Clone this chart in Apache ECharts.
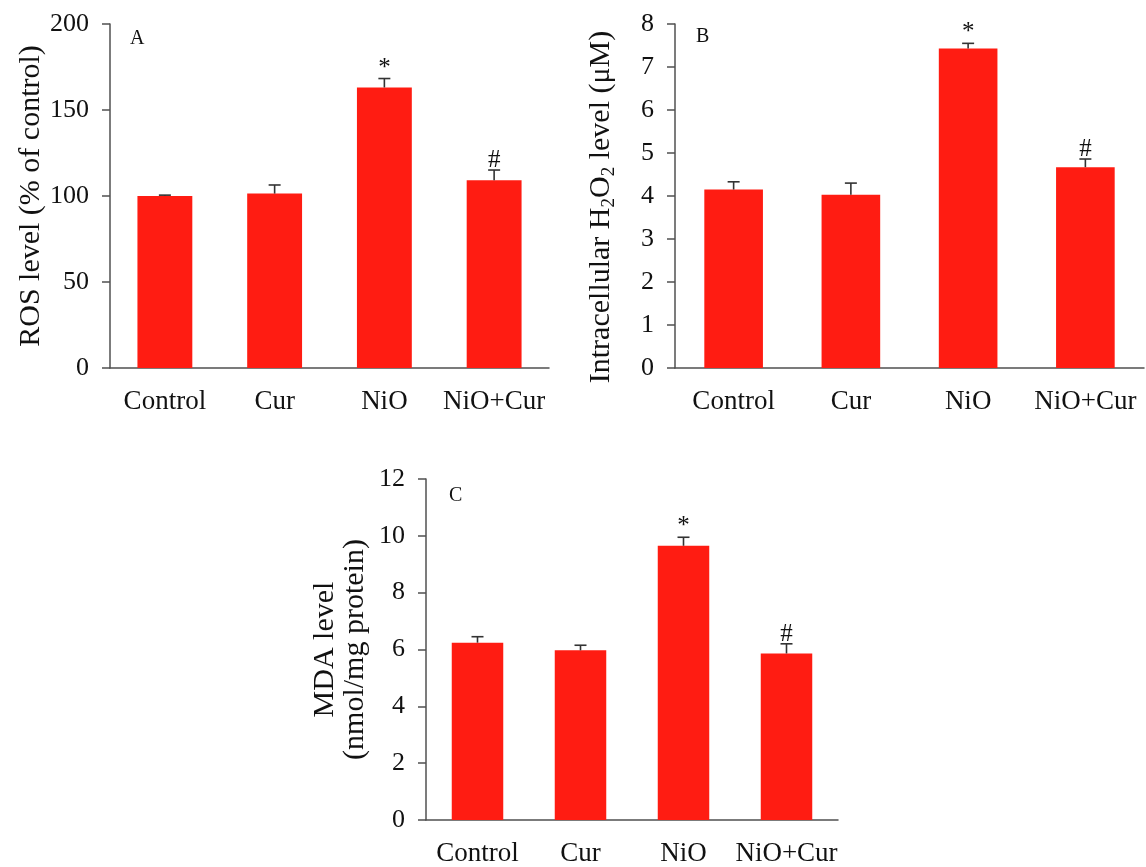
<!DOCTYPE html>
<html lang="en">
<head>
	<meta charset="UTF-8">
	<title>ROS, H2O2 and MDA levels</title>
	<style type="text/css">
		html, body { margin: 0; padding: 0; background: #fff; }
		#chart { width: 1146px; height: 867px; }
	</style>
</head>
<body>
	<div id="chart"></div>
	<script type="text/javascript" src="https://cdn.jsdelivr.net/npm/echarts@6/dist/echarts.min.js"></script>
	<script type="text/javascript">
		// groups, same for all three panels
		var groups = ['Control', 'Cur', 'NiO', 'NiO+Cur'];

		// panel A: ROS level (% of control)
		var rosMean = [100, 101.4, 163.1, 109.1];
		var rosErr = [0.5, 5.0, 5.2, 6.0];
		var rosTicks = [0, 50, 100, 150, 200];

		// panel B: intracellular H2O2 (uM)
		var h2o2Mean = [4.15, 4.03, 7.43, 4.67];
		var h2o2Err = [0.18, 0.27, 0.12, 0.19];
		var h2o2Ticks = [0, 1, 2, 3, 4, 5, 6, 7, 8];

		// panel C: MDA (nmol/mg protein)
		var mdaMean = [6.24, 5.97, 9.65, 5.86];
		var mdaErr = [0.21, 0.18, 0.30, 0.34];
		var mdaTicks = [0, 2, 4, 6, 8, 10, 12];

		// significance marks above the bars
		var marks = ['', '', '*', '#'];

		var font = '"Liberation Serif", "Times New Roman", serif';
		var red = '#ff1c12';
		var axisColor = '#505050';

		var myChart = echarts.init(document.getElementById('chart'));

		function xAx(i) {
			return {
				type: 'category', gridIndex: i, data: groups,
				axisLine: { lineStyle: { color: axisColor, width: 1.5 } },
				axisTick: { alignWithLabel: true, length: 6, lineStyle: { color: axisColor, width: 1.5 } },
				axisLabel: { interval: 0, color: '#111', fontFamily: font, fontSize: 27, margin: 20 }
			};
		}

		function yAx(i, ticks, name, gap, extra) {
			var ax = {
				type: 'value', gridIndex: i,
				min: ticks[0], max: ticks[ticks.length - 1], interval: ticks[1] - ticks[0],
				name: name, nameLocation: 'middle', nameGap: gap, nameRotate: 90,
				nameTextStyle: { color: '#111', fontFamily: font, fontSize: 30 },
				splitLine: { show: false },
				axisLine: { show: true, lineStyle: { color: axisColor, width: 1.5 } },
				axisTick: { show: true, length: 8, lineStyle: { color: axisColor, width: 1.5 } },
				axisLabel: { color: '#111', fontFamily: font, fontSize: 26, margin: 21 }
			};
			if (extra) ax.nameTextStyle = Object.assign(ax.nameTextStyle, extra);
			return ax;
		}

		function bars(i, vals) {
			return {
				type: 'bar', xAxisIndex: i, yAxisIndex: i, data: vals,
				barWidth: '50%', itemStyle: { color: red }, z: 2
			};
		}

		// upper error bar + cap + mark, drawn on the same axes
		function errs(i, vals, e) {
			return {
				type: 'custom', xAxisIndex: i, yAxisIndex: i, z: 3,
				data: vals.map(function (v, k) { return [k, v, v + e[k]]; }),
				renderItem: function (params, api) {
					var base = api.coord([api.value(0), api.value(1)]);
					var top = api.coord([api.value(0), api.value(2)]);
					var st = { stroke: '#333', lineWidth: 1.6 };
					var kids = [
						{ type: 'line', shape: { x1: top[0], y1: base[1], x2: top[0], y2: top[1] }, style: st },
						{ type: 'line', shape: { x1: top[0] - 6, y1: top[1], x2: top[0] + 6, y2: top[1] }, style: st }
					];
					var m = marks[params.dataIndex];
					if (m) {
						kids.push({
							type: 'text', x: top[0], y: top[1] + (m === '*' ? 2 : 3),
							style: { text: m, fill: '#111', font: '25px ' + font, textAlign: 'center', textVerticalAlign: 'bottom' }
						});
					}
					return { type: 'group', children: kids };
				}
			};
		}

		var option = {
			animation: false,
			title: [
				{ text: 'A', left: 125, top: 24, textStyle: { fontFamily: font, fontSize: 20, fontWeight: 'normal', color: '#111' } },
				{ text: 'B', left: 691, top: 22, textStyle: { fontFamily: font, fontSize: 20, fontWeight: 'normal', color: '#111' } },
				{ text: 'C', left: 444, top: 481, textStyle: { fontFamily: font, fontSize: 20, fontWeight: 'normal', color: '#111' } }
			],
			grid: [
				{ left: 110, top: 24, width: 439, height: 344 },
				{ left: 675, top: 24, width: 469, height: 344 },
				{ left: 426, top: 479, width: 412, height: 343 }
			],
			xAxis: [xAx(0), xAx(1), xAx(2)],
			yAxis: [
				yAx(0, rosTicks, 'ROS level (% of control)', 64),
				yAx(1, h2o2Ticks, 'Intracellular H{s|2}O{s|2} level (μM)', 56,
					{ padding: [0, 22, 0, 0], rich: { s: { fontFamily: font, fontSize: 19, color: '#111', padding: [16, 0, 0, 0] } } }),
				yAx(2, mdaTicks, 'MDA level\n(nmol/mg protein)', 56, { lineHeight: 30 })
			],
			series: [
				bars(0, rosMean), errs(0, rosMean, rosErr),
				bars(1, h2o2Mean), errs(1, h2o2Mean, h2o2Err),
				bars(2, mdaMean), errs(2, mdaMean, mdaErr)
			]
		};

		myChart.setOption(option);
	</script>
</body>
</html>
